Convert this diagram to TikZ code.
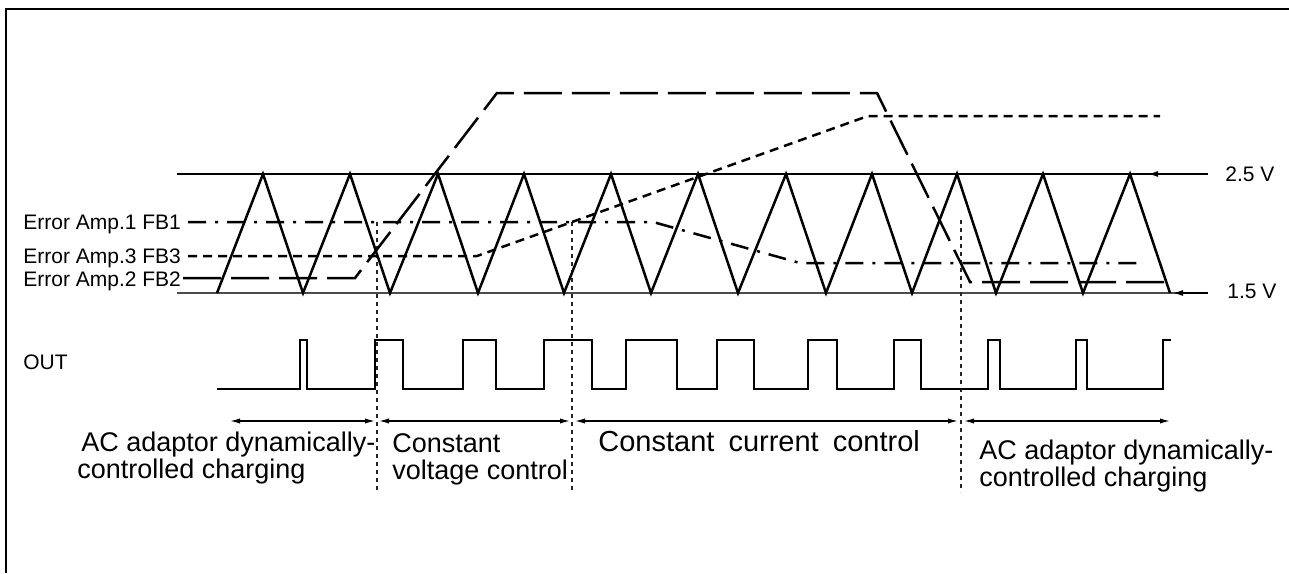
\documentclass[tikz,border=0pt]{standalone}
\usepackage{fontspec}
\setmainfont{Liberation Sans}
\usetikzlibrary{arrows.meta}
\begin{document}
\begin{tikzpicture}[x=0.5pt,y=-0.5pt,
  thickw/.style={line width=1.25pt, line join=miter},
  thinl/.style={line width=0.65pt},
  lbl/.style={font=\fontsize{10.5}{12}\selectfont, inner sep=0pt},
  biglbl/.style={font=\fontsize{13.5}{14}\selectfont, inner sep=0pt},
  fbone/.style={line width=1.25pt, dash pattern=on 9pt off 4.5pt on 1.5pt off 4.5pt},
  fbtwo/.style={line width=1.25pt, dash pattern=on 19pt off 5pt},
  fbthree/.style={line width=1.25pt, dash pattern=on 4.5pt off 3pt},
  vdot/.style={line width=0.6pt, dash pattern=on 2pt off 2pt, black!85},
  tip/.style={-{Latex[length=5pt,width=3pt]}},
  dimarr/.style={thinl, {Latex[length=5pt,width=2.6pt]}-{Latex[length=5pt,width=2.6pt]}},
]
\useasboundingbox (0,0) rectangle (1289,573);
% frame (top and left edges)
\draw[line width=1pt] (6,573) -- (6,9) -- (1289,9);

% reference levels
\draw[thinl] (177,174) -- (1208,174);
\draw[line width=0.8pt, black!70] (177,293) -- (1208,293);
\draw[thinl, tip] (1208,174) -- (1148,174);
\draw[thinl, tip] (1208,293) -- (1173,293);
\node[lbl, anchor=base west] (v25) at (1225,181.5) {2.5 V};
\node[lbl, anchor=base west] (v15) at (1227,298.5) {1.5 V};

% vertical dotted separators
\draw[vdot] (377,222) -- (377,492);
\draw[vdot] (572,222) -- (572,492);
\draw[vdot] (961,220) -- (961,492);

% triangle wave
\draw[thickw] (217,293) -- (263,174) -- (303,293) -- (350,174) -- (390,293)
  -- (438,174) -- (478,293) -- (524,174) -- (564,293) -- (611,174) -- (651,293)
  -- (698,174) -- (738,293) -- (786,174) -- (826,293) -- (872,174) -- (912,293)
  -- (957,174) -- (996,293) -- (1043,174) -- (1083,293) -- (1130,174) -- (1170,293);

% feedback signals
\node[lbl, anchor=base west] (fb1) at (23,229.5) {Error Amp.1 FB1};
\node[lbl, anchor=base west] (fb3) at (23,263) {Error Amp.3 FB3};
\node[lbl, anchor=base west] (fb2) at (23,286.5) {Error Amp.2 FB2};
\draw[fbone] (188,222) -- (653,222) -- (800,263) -- (1140,263);
\draw[fbthree] (188,256) -- (477,256) -- (868,116) -- (1160,116);
\draw[fbtwo] (183,278) -- (355,278) -- (497,93) -- (877,93) -- (970,282) -- (1168,282);

% OUT waveform
\node[lbl, anchor=base west] (out) at (23,369.5) {OUT};
\draw[thickw] (217,389) -- (300,389) -- (300,340) -- (307,340) -- (307,389)
  -- (375,389) -- (375,340) -- (403,340) -- (403,389)
  -- (463,389) -- (463,340) -- (496,340) -- (496,389)
  -- (544,389) -- (544,340) -- (592,340) -- (592,389)
  -- (626,389) -- (626,340) -- (677,340) -- (677,389)
  -- (717,389) -- (717,340) -- (754,340) -- (754,389)
  -- (808,389) -- (808,340) -- (837,340) -- (837,389)
  -- (894,389) -- (894,340) -- (921,340) -- (921,389)
  -- (988,389) -- (988,340) -- (1000,340) -- (1000,389)
  -- (1076,389) -- (1076,340) -- (1087,340) -- (1087,389)
  -- (1163,389) -- (1163,340) -- (1171,340);

% region arrows
\coordinate (a0) at (230,421);
\coordinate (a1) at (375,421);
\coordinate (b0) at (379,421);
\coordinate (b1) at (570,421);
\coordinate (c0) at (575,421);
\coordinate (c1) at (958,421);
\coordinate (d0) at (964,421);
\coordinate (d1) at (1170,421);
\draw[dimarr] (a0) -- (a1);
\draw[dimarr] (b0) -- (b1);
\draw[dimarr] (c0) -- (c1);
\draw[dimarr] (d0) -- (d1);

% region labels
\node[biglbl, anchor=base west] (l1a) at (81,451) {AC adaptor dynamically-};
\node[biglbl, anchor=base west] (l1b) at (77,478) {controlled charging};
\node[biglbl, anchor=base west] (l2a) at (392,452) {Constant};
\node[biglbl, anchor=base west] (l2b) at (392,479) {voltage control};
\node[biglbl, font=\fontsize{14.5}{16}\selectfont, anchor=base west] (l3) at (598,451) {Constant\hspace{3pt} current\hspace{3pt} control};
\node[biglbl, anchor=base west] (l4a) at (979,459) {AC adaptor dynamically-};
\node[biglbl, anchor=base west] (l4b) at (979,486) {controlled charging};
\end{tikzpicture}
\end{document}
